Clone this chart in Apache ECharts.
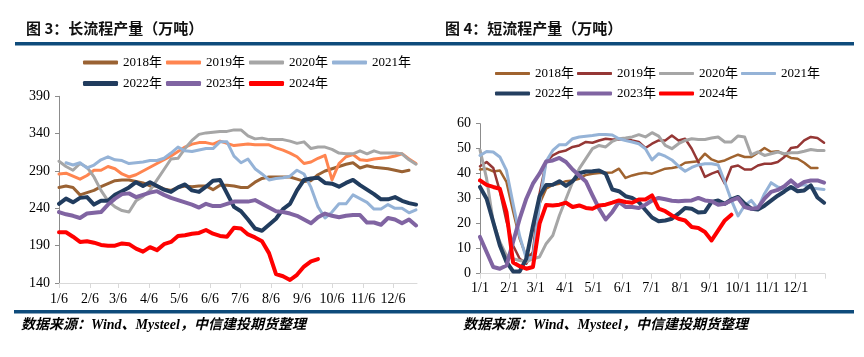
<!DOCTYPE html>
<html><head><meta charset="utf-8">
<script src="https://cdn.jsdelivr.net/npm/echarts@6/dist/echarts.min.js"></script>
<style>html,body{margin:0;padding:0;background:#fff;}#c{width:864px;height:357px;}</style>
</head><body><div id="c"></div>
<script>
// ---------- categories / tick labels ----------
const YEARS = ['2018年','2019年','2020年','2021年','2022年','2023年','2024年'];
const LEFT_TICK_DAYS = [0,31,59,90,120,151,181,212,243,273,304,334];
const LEFT_TICK_LABELS = ['1/6','2/6','3/6','4/6','5/6','6/6','7/6','8/6','9/6','10/6','11/6','12/6'];
const RIGHT_TICK_DAYS = [0,31,59,90,120,151,181,212,243,273,304,334];
const RIGHT_TICK_LABELS = ['1/1','2/1','3/1','4/1','5/1','6/1','7/1','8/1','9/1','10/1','11/1','12/1'];
const RIGHT_TICK_MARKS = [0,31,59,90,120,151,181,212,243,273,304,334,365];

// ---------- left chart: long-process output (weekly, 万吨) ----------
const L2018 = [268,270,268,258,261,264,269,273,277,278,278,276,274,270,270,266,264,268,270,269,270,270,265,271,271,270,268,268,275,280,282,282,282,282,279,276,277,285,290,293,296,299,301,294,297,295,294,293,291,289,291];
const L2019 = [286,287,283,279,284,291,291,296,293,286,282,285,290,295,300,305,310,316,322,326,328,328,326,330,327,324,325,326,325,325,325,321,318,314,309,300,302,307,311,278,300,309,312,305,304,306,307,308,310,313,306,300];
const L2020 = [303,296,291,300,295,282,264,250,242,237,235,250,256,264,278,292,306,307,320,331,339,341,342,343,343,345,345,337,333,334,332,332,332,330,327,329,320,322,322,319,314,313,313,317,313,317,314,314,314,313,305,299];
const L2021 = [null,301,298,301,294,298,305,309,305,304,300,301,302,304,304,307,314,322,317,316,318,320,320,329,329,310,301,306,293,286,278,280,281,283,291,286,268,242,227,235,246,246,258,253,248,239,239,245,240,240,234,238];
const L2022 = [246,253,248,254,255,245,250,250,258,263,268,275,270,275,270,265,262,268,272,264,262,269,277,278,260,242,236,225,213,210,218,226,239,246,264,278,280,281,274,273,269,274,278,271,265,259,252,252,255,250,247,245];
const L2023 = [235,232,230,227,233,234,235,245,253,259,260,255,258,261,263,258,254,251,248,245,241,246,243,243,246,249,249,249,251,246,241,236,235,233,230,225,220,228,233,230,228,230,231,231,221,221,218,227,225,220,225,217];
const L2024 = [208,208,202,195,196,194,191,190,190,193,192,186,182,188,184,192,195,203,204,206,207,211,206,203,202,214,213,205,201,196,180,152,149,144,151,162,169,172];

// ---------- right chart: short-process output (weekly, 万吨) ----------
const R2018 = [41.7,42,40.9,41.3,36.7,25,14,7,8,28,34,35.5,36,37,37.3,38,39.5,40,40.3,40.4,40.5,42,38.3,39.3,40,40.4,40,41,42,42.3,42.8,44.4,44.7,45,48,45.7,44.7,45.3,46.5,47.6,46.7,46.7,48.4,50.3,48.7,49,47.6,46.3,46,44.4,42.3,42.3];
const R2019 = [43,44.7,42.3,33,21,11.3,6,4,8.7,32,44.7,47.3,48.7,49.3,50.7,51.3,52.7,52.4,53.3,54,53.7,53.7,54,53.3,52.7,50.3,52,53.3,53.3,55.3,53.3,54,50,44.7,38.7,40,41,36,42.7,43.3,41.7,41.7,43.3,44,44,44.7,46.7,50.3,50.7,53.3,54.7,54.3,52.4];
const R2020 = [49.5,38,20.7,12.7,7.3,6,5.3,4.7,6,6.7,12,15.3,23.3,30,36.7,42,46,50,51.3,50.7,52.9,54,54.3,54.7,55.6,54.7,56.4,55,51.3,50,52,53.3,54,53.7,53.7,54.3,54.7,52.7,52.7,55.1,54.7,47.5,48.7,47.3,48,48.7,48,48.4,48.4,49,49.7,49.3,49.3];
const R2021 = [47.3,48.9,48.7,46.7,41.3,28,15,6,6.7,28,45,49.3,51.6,51.6,54,54.7,55,55.3,55.7,55.7,55.5,54,53.3,52.7,52,50,45.5,48,47,45.5,43,41,42.5,43.5,44,44,43.5,36.7,29.3,23.1,27.3,29.3,26,32,36.4,34.7,34,34,35.3,35.6,34.3,34,33.7];
const R2022 = [34.7,30,20.7,11.3,4.7,0.9,0.9,6,19,31,35.5,35.6,37,35.1,37,40.2,40.9,41,41.3,40,33.7,33,31,30.3,28.7,25.5,22.5,21,21.3,22,24,26.3,26,24.5,24.7,28.7,29.3,28,29.7,30.7,28,26,25.7,27.2,29.2,31.2,32.9,34.7,33,33.3,35.3,30.5,28.4];
const R2023 = [14.7,8.7,2.7,2,3.3,12.7,22,30,36,40,44.9,45.3,46.3,44.7,41.7,39.3,36.9,31.3,26,21.7,24.7,28.7,26.7,26.7,26.3,27.6,29.3,30.3,29.8,29.2,29,29.2,29.3,30.3,29.3,29,27.6,28,29.3,30.3,26.7,26,26.3,30,32.7,33.5,35,37.3,35,36.7,37.3,37.3,36.4];
const R2024 = [37.3,35.5,34.7,34,24.7,4.5,3,2,2.7,20,27.5,27.3,27.6,28.4,26.7,27.3,26.3,26,27.3,27.6,28.4,29.3,28.7,28.4,29.7,29.7,31.3,26,25,23.3,22,21.3,18.7,18.3,16.7,13.3,17.3,21.3,23.6];

const LEFT_DATA = [L2018,L2019,L2020,L2021,L2022,L2023,L2024];
const RIGHT_DATA = [R2018,R2019,R2020,R2021,R2022,R2023,R2024];

// ---------- styles ----------
const LEFT_COLORS = ['#9A6233','#FF8550','#A6A6A6','#95B3D7','#213C5E','#8064A2','#FF0000'];
const RIGHT_COLORS = ['#A0632F','#953735','#A6A6A6','#95B3D7','#243F60','#8064A2','#FF0000'];
const LEFT_WIDTHS = [3,3,3,3,4,4,4];
const RIGHT_WIDTHS = [2.5,2.5,3,3,4,4,4];
const SERIF = "'Liberation Serif','Noto Sans CJK SC',serif";

const toPairs = arr => arr.map((v,i)=>[i*7, v]);

function mkSeries(data, colors, widths, idx){
  return data.map((arr,k)=>({
    type:'line', name: YEARS[k], xAxisIndex: idx, yAxisIndex: idx,
    data: toPairs(arr), symbol:'none', silent:true,
    lineStyle:{color:colors[k], width:widths[k], cap:'round', join:'round'},
    itemStyle:{color:colors[k]}, animation:false
  }));
}

function mkLegend(left, top, names, colors, h, gap){
  return {
    left, top, orient:'horizontal', itemWidth:35, itemHeight:h, itemGap:gap,
    icon:'roundRect', selectedMode:false,
    data: names.map((n,i)=>({name:n, icon:'roundRect', itemStyle:{color:colors[i]}})),
    textStyle:{fontFamily:SERIF, fontSize:13, color:'#000', width:44, padding:[0,0,0,0]}
  };
}

const axisLabelStyle = {fontFamily:SERIF, fontSize:14, color:'#000'};

const option = {
  backgroundColor:'#fff',
  animation:false,
  grid:[
    {left:59, top:96.3, width:358, height:186.7, containLabel:false},
    {left:480, top:123.7, width:345, height:150, containLabel:false}
  ],
  xAxis:[
    {type:'value', gridIndex:0, min:0, max:358,
     axisLine:{show:true, lineStyle:{color:'#D9D9D9', width:1}},
     axisTick:{show:true, length:5, lineStyle:{color:'#D9D9D9'}, customValues:LEFT_TICK_DAYS},
     axisLabel:Object.assign({margin:9, customValues:LEFT_TICK_DAYS,
       formatter:v=>LEFT_TICK_LABELS[LEFT_TICK_DAYS.indexOf(v)]||''}, axisLabelStyle),
     splitLine:{show:false}},
    {type:'value', gridIndex:1, min:0, max:365,
     axisLine:{show:true, lineStyle:{color:'#D9D9D9', width:1}},
     axisTick:{show:true, length:5, lineStyle:{color:'#D9D9D9'}, customValues:RIGHT_TICK_MARKS},
     axisLabel:Object.assign({margin:8, customValues:RIGHT_TICK_DAYS,
       formatter:v=>RIGHT_TICK_LABELS[RIGHT_TICK_DAYS.indexOf(v)]||''}, axisLabelStyle),
     splitLine:{show:false}}
  ],
  yAxis:[
    {type:'value', gridIndex:0, min:140, max:390, interval:50,
     axisLine:{show:true, lineStyle:{color:'#8C8C8C', width:1}},
     axisTick:{show:true, length:4, lineStyle:{color:'#8C8C8C'}},
     axisLabel:Object.assign({margin:9}, axisLabelStyle),
     splitLine:{show:false}},
    {type:'value', gridIndex:1, min:0, max:60, interval:10,
     axisLine:{show:true, lineStyle:{color:'#8C8C8C', width:1}},
     axisTick:{show:true, length:4, lineStyle:{color:'#8C8C8C'}},
     axisLabel:Object.assign({margin:9}, axisLabelStyle),
     splitLine:{show:false}}
  ],
  legend:[
    mkLegend(78, 51, YEARS.slice(0,4), LEFT_COLORS.slice(0,4), 4, 4),
    mkLegend(78, 72, YEARS.slice(4), LEFT_COLORS.slice(4), 5, 4),
    mkLegend(490, 62, YEARS.slice(0,4), RIGHT_COLORS.slice(0,4), 3, 3),
    mkLegend(490, 82, YEARS.slice(4), RIGHT_COLORS.slice(4), 4, 3)
  ],
  graphic:[
    {type:'text', left:26, top:21, style:{text:'图 3：长流程产量（万吨）', fontFamily:"'Noto Sans CJK SC',sans-serif", fontWeight:'bold', fontSize:15, fill:'#111'}},
    {type:'text', left:445, top:21, style:{text:'图 4：短流程产量（万吨）', fontFamily:"'Noto Sans CJK SC',sans-serif", fontWeight:'bold', fontSize:15, fill:'#111'}},
    {type:'rect', shape:{x:15, y:42, width:839, height:3.5}, style:{fill:'#0E4B7B'}},
    {type:'rect', shape:{x:14, y:310, width:840, height:3.5}, style:{fill:'#0E4B7B'}},
    {type:'text', left:21, top:318, style:{text:'数据来源：Wind、Mysteel，中信建投期货整理', fontFamily:SERIF, fontStyle:'italic', fontWeight:'bold', fontSize:14, fill:'#000'}},
    {type:'text', left:463, top:318, style:{text:'数据来源：Wind、Mysteel，中信建投期货整理', fontFamily:SERIF, fontStyle:'italic', fontWeight:'bold', fontSize:14, fill:'#000'}}
  ],
  series: mkSeries(LEFT_DATA, LEFT_COLORS, LEFT_WIDTHS, 0).concat(mkSeries(RIGHT_DATA, RIGHT_COLORS, RIGHT_WIDTHS, 1))
};

const chart = echarts.init(document.getElementById('c'), null, {renderer:'canvas'});
chart.setOption(option);
</script>
</body></html>
